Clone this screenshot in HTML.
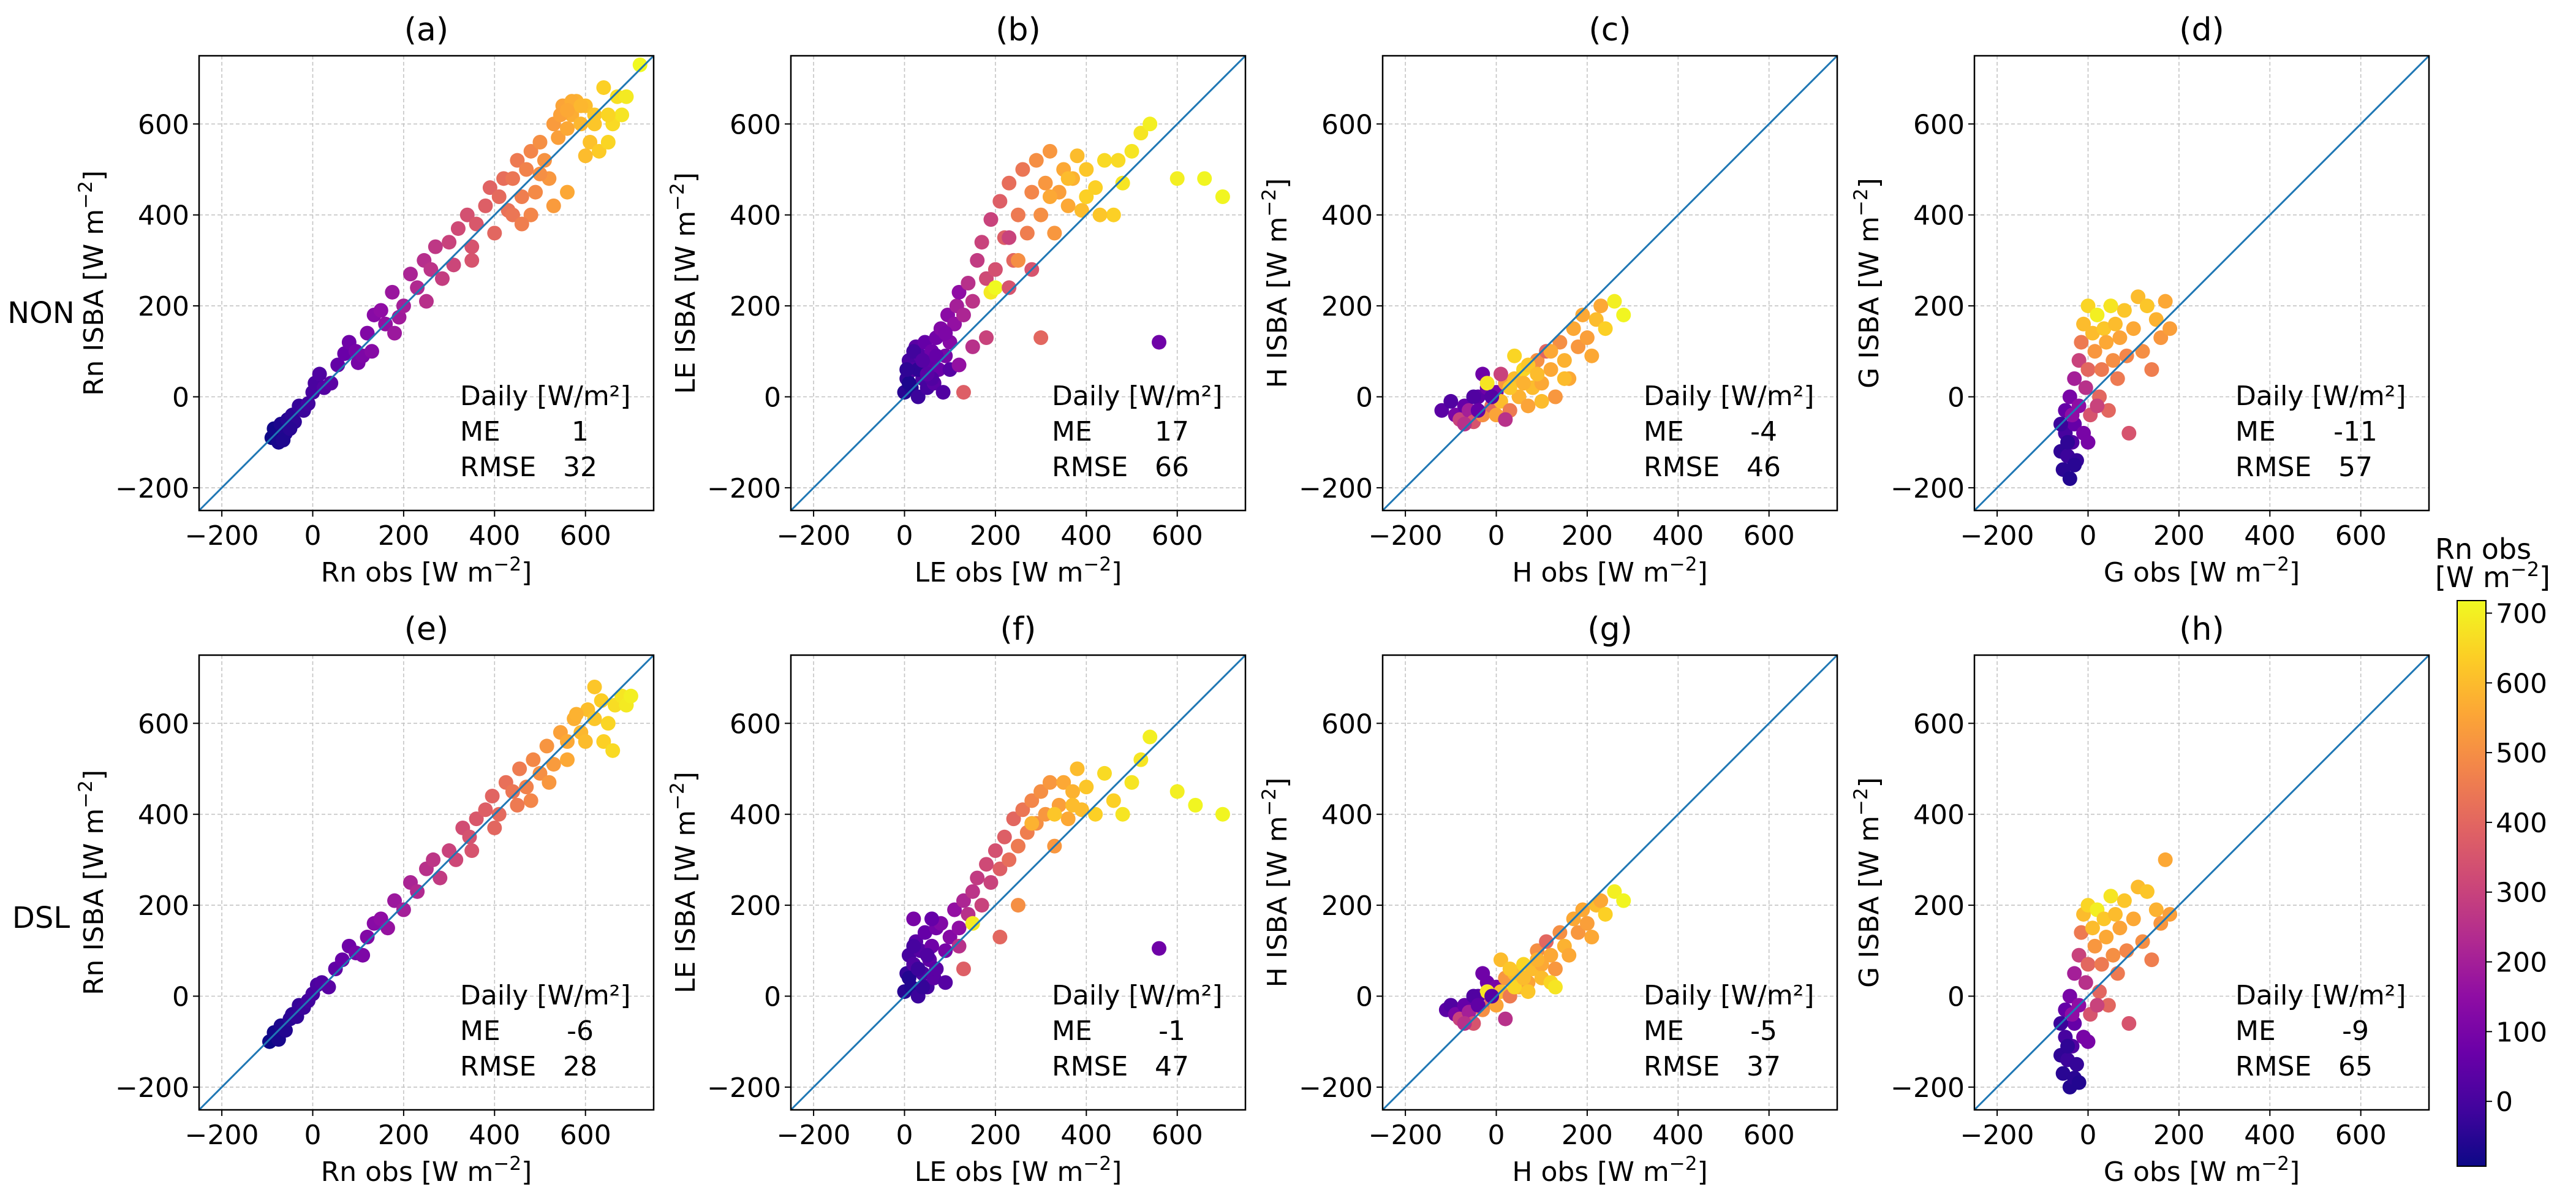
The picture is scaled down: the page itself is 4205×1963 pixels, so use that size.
<!DOCTYPE html>
<html><head><meta charset="utf-8">
<style>
html,body{margin:0;padding:0;background:#fff;}
svg{display:block;font-family:"DejaVu Sans","Liberation Sans",sans-serif;}
</style></head>
<body>
<svg id="fig" width="4205" height="1963" viewBox="0 0 4205 1963" xmlns="http://www.w3.org/2000/svg">
<defs>
<linearGradient id="plasma" x1="0" y1="1" x2="0" y2="0">
<stop offset="0" stop-color="#0d0887"/><stop offset="0.1" stop-color="#41049d"/><stop offset="0.2" stop-color="#6a00a8"/><stop offset="0.3" stop-color="#8f0da4"/><stop offset="0.4" stop-color="#b12a90"/><stop offset="0.5" stop-color="#cc4778"/><stop offset="0.6" stop-color="#e16462"/><stop offset="0.7" stop-color="#f2844b"/><stop offset="0.8" stop-color="#fca636"/><stop offset="0.9" stop-color="#fcce25"/><stop offset="1" stop-color="#f0f921"/>
</linearGradient>
</defs>
<text x="67" y="527" font-size="48" text-anchor="middle">NON</text>
<text x="67" y="1514" font-size="48" text-anchor="middle">DSL</text>
<g id="panels"></g>
<g id="colorbar"></g>
</svg>
<script>
// ---- data: [obs, isba, Rn obs] ----
const ptsA=[[-90,-90,-90],[-85,-70,-85],[-75,-100,-75],[-70,-60,-70],[-60,-80,-60],[-55,-50,-55],[-45,-40,-45],[-40,-55,-40],[-30,-20,-30],[-20,-30,-20],[-10,-15,-10],[0,10,0],[5,30,5],[15,50,15],[25,20,25],[40,30,40],[55,70,55],[70,95,70],[80,120,80],[95,100,95],[100,75,100],[110,90,110],[120,140,120],[135,180,135],[150,190,150],[160,160,160],[175,230,175],[190,175,190],[200,200,200],[215,270,215],[230,240,230],[245,300,245],[260,280,260],[270,330,270],[285,260,285],[300,340,300],[310,290,310],[320,370,320],[340,400,340],[350,330,350],[360,380,360],[380,420,380],[390,460,390],[400,360,400],[410,440,410],[420,480,420],[430,410,430],[440,480,440],[450,520,450],[460,440,460],[470,500,470],[480,540,480],[490,450,490],[500,560,500],[510,520,510],[520,480,520],[530,600,530],[540,570,540],[550,640,550],[560,590,560],[570,620,570],[580,650,580],[590,600,590],[600,640,600],[610,560,610],[620,620,620],[630,540,630],[640,680,640],[650,560,650],[660,600,660],[670,660,670],[680,620,680],[690,660,690],[720,730,720],[500,490,500],[530,420,530],[560,450,560],[600,530,600],[480,400,480],[440,400,440],[460,380,460],[350,300,350],[250,210,250],[180,140,180],[130,100,130],[-65,-95,-65],[-50,-70,-50],[570,650,570],[590,640,590],[545,620,545],[620,600,620],[650,620,650],[560,630,560]];
const ptsB=[[0,10,-50],[5,40,-30],[10,80,0],[15,20,-60],[20,60,20],[25,110,40],[30,0,-20],[35,90,30],[40,40,10],[45,120,60],[50,20,0],[55,70,50],[60,100,80],[65,30,40],[70,130,90],[75,60,70],[80,150,120],[85,10,20],[90,90,100],[95,180,140],[100,120,130],[110,160,160],[115,200,200],[120,230,150],[130,180,220],[140,250,250],[150,210,260],[160,300,280],[170,340,300],[180,260,320],[190,390,300],[200,280,340],[210,430,380],[220,350,380],[230,470,420],[240,300,400],[250,400,450],[260,500,440],[270,360,460],[280,450,480],[290,520,500],[300,400,500],[310,470,520],[320,540,520],[330,360,520],[340,450,540],[350,500,560],[360,420,560],[370,480,580],[380,530,600],[390,410,600],[400,500,620],[420,460,640],[440,520,660],[460,400,640],[480,470,680],[500,540,680],[520,580,680],[540,600,700],[560,120,80],[600,480,700],[660,480,710],[700,440,710],[300,130,400],[100,60,30],[130,10,380],[230,350,300],[150,110,250],[250,300,500],[190,230,690],[200,240,720],[120,70,160],[180,130,300],[230,240,350],[280,280,350],[430,400,620],[30,60,-40],[60,40,20],[10,30,-70],[20,100,-10],[40,80,30],[70,90,60],[5,60,-40],[50,50,40],[90,140,110],[320,440,560],[360,480,600],[400,440,640],[470,520,660]];
const ptsC=[[-120,-30,40],[-100,-10,20],[-90,-40,100],[-80,-50,300],[-70,-20,60],[-60,-30,200],[-50,-55,350],[-40,0,40],[-30,-40,500],[-20,20,80],[-10,-20,400],[0,-40,550],[0,10,100],[10,-10,600],[20,30,520],[30,-30,450],[40,40,600],[50,0,580],[60,60,650],[70,-20,550],[80,20,600],[90,80,500],[100,30,560],[110,100,400],[120,60,560],[130,0,520],[140,120,500],[150,80,580],[160,40,560],[170,150,560],[180,110,520],[190,180,560],[200,130,540],[210,90,560],[220,170,600],[230,200,560],[240,150,640],[260,210,700],[280,180,710],[-30,50,80],[10,50,300],[40,90,650],[70,70,620],[20,-50,250],[-70,-60,250],[100,-10,600],[-20,30,680],[-50,0,20],[-10,0,30],[30,20,620],[60,30,580],[90,50,600],[120,100,560],[150,40,600],[-40,-30,60]];
const ptsD=[[-60,-120,-40],[-55,-160,-50],[-50,-80,0],[-50,-30,60],[-45,-130,-20],[-40,-180,-60],[-40,0,100],[-35,-100,20],[-30,-60,60],[-30,40,200],[-25,-140,-30],[-20,-20,150],[-20,80,300],[-15,120,450],[-10,160,600],[-10,-80,100],[-5,20,250],[0,200,650],[0,60,400],[5,-40,350],[10,140,600],[15,100,520],[20,180,700],[25,0,400],[30,60,450],[35,150,620],[40,120,560],[45,-30,400],[50,200,680],[55,80,500],[60,160,600],[65,40,450],[70,130,550],[80,190,620],[85,90,480],[90,-80,350],[100,150,560],[110,220,600],[120,100,500],[130,200,620],[140,60,460],[150,170,580],[160,130,520],[170,210,560],[180,150,540],[-60,-60,-20],[-35,-40,150],[0,-100,100],[20,-20,300],[-45,-100,-40],[-30,-150,-50]];
const ptsE=[[-95,-100,-95],[-85,-80,-85],[-75,-95,-75],[-70,-65,-70],[-60,-75,-60],[-50,-50,-50],[-45,-40,-45],[-35,-45,-35],[-30,-20,-30],[-20,-25,-20],[-10,-10,-10],[0,5,0],[10,25,10],[20,30,20],[35,20,35],[50,60,50],[65,80,65],[80,110,80],[95,95,95],[110,90,110],[120,130,120],[135,160,135],[150,170,150],[165,150,165],[180,210,180],[200,190,200],[215,250,215],[230,230,230],[250,280,250],[265,300,265],[280,260,280],[300,320,300],[315,300,315],[330,370,330],[345,350,345],[360,390,360],[380,410,380],[395,440,395],[410,400,410],[425,470,425],[440,450,440],[455,500,455],[470,460,470],[485,520,485],[500,490,500],[515,550,515],[530,510,530],[545,580,545],[560,560,560],[575,610,575],[590,580,590],[605,630,605],[620,610,620],[635,650,635],[650,600,650],[665,640,665],[680,660,680],[690,640,690],[700,660,700],[640,560,640],[660,540,660],[600,560,600],[560,520,560],[520,470,520],[480,430,480],[450,420,450],[400,370,400],[350,320,350],[620,680,620],[580,620,580]];
const ptsF=[[0,10,-50],[5,50,-30],[10,90,0],[15,20,-60],[20,70,20],[25,120,40],[30,0,-20],[35,100,30],[40,50,10],[45,140,60],[50,20,0],[55,80,50],[60,110,80],[65,40,40],[70,150,90],[80,160,120],[90,100,100],[100,130,130],[110,190,160],[120,150,150],[130,210,220],[140,180,250],[150,230,260],[160,260,280],[170,200,300],[180,290,320],[190,250,300],[200,320,340],[210,280,380],[220,350,380],[230,300,420],[240,390,400],[250,330,450],[260,410,440],[270,360,460],[280,430,480],[290,380,500],[300,450,500],[310,400,520],[320,470,520],[330,330,520],[340,420,540],[350,470,560],[360,390,560],[370,450,580],[380,500,600],[390,410,600],[400,460,620],[420,400,640],[440,490,660],[460,430,640],[480,400,680],[500,470,680],[520,520,680],[540,570,700],[560,105,80],[600,450,700],[640,420,710],[700,400,710],[210,130,400],[90,30,30],[130,60,380],[150,160,690],[250,200,500],[120,110,250],[60,170,60],[20,170,100],[10,40,-60],[30,60,-20],[50,90,20],[70,60,40],[20,110,0],[40,20,-30],[280,380,580],[330,400,620],[370,420,600]];
const ptsG=[[-110,-30,40],[-100,-20,20],[-90,-40,100],[-80,-50,300],[-70,-20,60],[-60,-35,200],[-50,-60,350],[-40,0,40],[-30,-30,500],[-20,30,80],[-10,-10,400],[0,-20,550],[0,20,100],[10,10,600],[20,40,520],[30,0,450],[40,50,600],[50,20,580],[60,70,650],[70,30,550],[80,60,600],[90,100,500],[100,70,560],[110,120,400],[120,90,560],[130,60,520],[140,140,500],[150,110,580],[160,90,560],[170,170,560],[180,140,520],[190,190,560],[200,160,540],[210,130,560],[220,200,600],[230,210,560],[240,180,640],[260,230,700],[280,210,710],[-30,50,80],[10,80,600],[40,20,650],[70,10,620],[20,-50,250],[-70,-60,250],[100,40,600],[-20,10,680],[-50,0,20],[-10,0,30],[120,30,650],[130,20,680],[30,60,620],[60,40,600],[90,80,580],[-40,-20,50]];
const ptsH=[[-60,-130,-40],[-55,-170,-50],[-50,-90,0],[-50,-30,60],[-45,-140,-20],[-40,-200,-60],[-40,0,100],[-35,-110,20],[-30,-60,60],[-30,50,200],[-25,-150,-30],[-20,-20,150],[-20,90,300],[-15,140,450],[-10,180,600],[-10,-90,100],[-5,30,250],[0,200,650],[0,70,400],[5,-40,350],[10,150,600],[15,110,520],[20,190,700],[25,10,400],[30,70,450],[35,170,620],[40,130,560],[45,-20,400],[50,220,680],[55,90,500],[60,180,600],[65,50,450],[70,150,550],[80,210,620],[85,100,480],[90,-60,350],[100,170,560],[110,240,600],[120,120,500],[130,230,620],[140,80,460],[150,190,580],[160,160,520],[170,300,560],[180,180,540],[-60,-60,-20],[-35,-40,150],[0,-100,100],[20,-20,300],[-45,-110,-40],[-30,-180,-50],[-20,-190,-60]];

const panelLetters=['a','b','c','d','e','f','g','h'];
const varNames=['Rn','LE','H','G','Rn','LE','H','G'];
const meVals=['1','17','-4','-11','-6','-1','-5','-9'];
const rmseVals=['32','66','46','57','28','47','37','65'];
const tickVals=[-200,0,200,400,600];
const cbTicks=[0,100,200,300,400,500,600,700];
const allPts=[ptsA,ptsB,ptsC,ptsD,ptsE,ptsF,ptsG,ptsH];

const NS='http://www.w3.org/2000/svg';
const VMIN=-250,VMAX=750,SZ=742,CMIN=-93,CMAX=718;
const lefts=[325,1291,2257,3223], tops=[91,1069];
const stops=[[13,8,135],[65,4,157],[106,0,168],[143,13,164],[177,42,144],[204,71,120],[225,100,98],[242,132,75],[252,166,54],[252,206,37],[240,249,33]];
function plasma(v){let t=(v-CMIN)/(CMAX-CMIN);t=Math.max(0,Math.min(1,t))*10;const i=Math.min(9,Math.floor(t)),f=t-i;const a=stops[i],b=stops[i+1];return 'rgb('+a.map((c,k)=>Math.round(c+(b[k]-c)*f)).join(',')+')';}
function mk(tag,attrs,parent){const e=document.createElementNS(NS,tag);for(const k in attrs)e.setAttribute(k,attrs[k]);parent.appendChild(e);return e;}
const root=document.getElementById('panels');
allPts.forEach((pts,p)=>{
  const L=lefts[p%4],T=tops[Math.floor(p/4)];
  const sx=v=>L+(v-VMIN)/(VMAX-VMIN)*SZ, sy=v=>T+(VMAX-v)/(VMAX-VMIN)*SZ;
  const g=mk('g',{},root);
  
  
  tickVals.forEach(v=>{
    const gx=mk('line',{x1:sx(v),x2:sx(v),y1:T,y2:T+SZ,stroke:'#c4c4c4','stroke-width':1.6,'stroke-dasharray':'6,4'},g);
    
    
    const gy=mk('line',{x1:L,x2:L+SZ,y1:sy(v),y2:sy(v),stroke:'#c4c4c4','stroke-width':1.6,'stroke-dasharray':'6,4'},g);
    
    
    mk('line',{x1:sx(v),x2:sx(v),y1:T+SZ,y2:T+SZ+10,stroke:'#000','stroke-width':2},g);
    mk('line',{x1:L-10,x2:L,y1:sy(v),y2:sy(v),stroke:'#000','stroke-width':2},g);
    const tx=mk('text',{x:sx(v),y:T+SZ+56,'font-size':44,'text-anchor':'middle'},g);
    tx.textContent=(v<0?'\u2212':'')+Math.abs(v);
    
    
    const ty=mk('text',{x:L-16,y:sy(v)+16,'font-size':44,'text-anchor':'end'},g);
    ty.textContent=(v<0?'\u2212':'')+Math.abs(v);
    
    
  });
  pts.forEach(d=>{
    const c=mk('circle',{cx:sx(d[0]),cy:sy(d[1]),r:12,fill:plasma(d[2])},g);
    
    
  });
  const dl=mk('line',{x1:sx(VMIN),y1:sy(VMIN),x2:sx(VMAX),y2:sy(VMAX),stroke:'#1f77b4','stroke-width':3},g);
  
  
  const fr=mk('rect',{x:L,y:T,width:SZ,height:SZ,fill:'none',stroke:'#000','stroke-width':2.5},g);
  
  
  const ti=mk('text',{x:L+SZ/2,y:T-25,'font-size':52,'text-anchor':'middle'},g);
  ti.textContent='('+panelLetters[p]+')';
  
  
  const xl=mk('text',{x:L+SZ/2,y:T+SZ+116,'font-size':44,'text-anchor':'middle'},g);
  xl.innerHTML=varNames[p]+' obs [W m<tspan dy="-18" font-size="31">\u22122</tspan><tspan dy="18">]</tspan>';
  
  
  const cy=T+SZ/2, cx=L-157;
  const yl=mk('text',{x:cx,y:cy,'font-size':44,'text-anchor':'middle',transform:'rotate(-90 '+cx+' '+cy+')'},g);
  yl.innerHTML=varNames[p]+' ISBA [W m<tspan dy="-18" font-size="31">\u22122</tspan><tspan dy="18">]</tspan>';
  
  
  const s1=mk('text',{x:L+426,y:T+570,'font-size':44},g);
  s1.textContent='Daily [W/m\u00b2]';
  
  
  const s2=mk('text',{x:L+426,y:T+628,'font-size':44},g);
  s2.textContent='ME';
  
  
  const s3=mk('text',{x:L+622,y:T+628,'font-size':44,'text-anchor':'middle'},g);
  s3.textContent=meVals[p];
  
  
  const s4=mk('text',{x:L+426,y:T+686,'font-size':44},g);
  s4.textContent='RMSE';
  
  
  const s5=mk('text',{x:L+622,y:T+686,'font-size':44,'text-anchor':'middle'},g);
  s5.textContent=rmseVals[p];
  
  
});
// colorbar
const cb=document.getElementById('colorbar');
const CBX=4011,CBW=47,CBT=980,CBB=1903;
const cyv=v=>CBB-(v-CMIN)/(CMAX-CMIN)*(CBB-CBT);
mk('rect',{x:CBX,y:CBT,width:CBW,height:CBB-CBT,fill:'url(#plasma)',stroke:'#000','stroke-width':2},cb);
cbTicks.forEach(v=>{
  mk('line',{x1:CBX+CBW,x2:CBX+CBW+10,y1:cyv(v),y2:cyv(v),stroke:'#000','stroke-width':2},cb);
  const t=mk('text',{x:4074,y:cyv(v)+16,'font-size':44},cb);
  t.textContent=v;
  
  
});
const c1=mk('text',{x:3975,y:912,'font-size':46},cb);
c1.textContent='Rn obs';


const c2=mk('text',{x:3975,y:958,'font-size':46},cb);
c2.innerHTML='[W m<tspan dy="-18" font-size="32">\u22122</tspan><tspan dy="18">]</tspan>';


</script>
</body></html>
